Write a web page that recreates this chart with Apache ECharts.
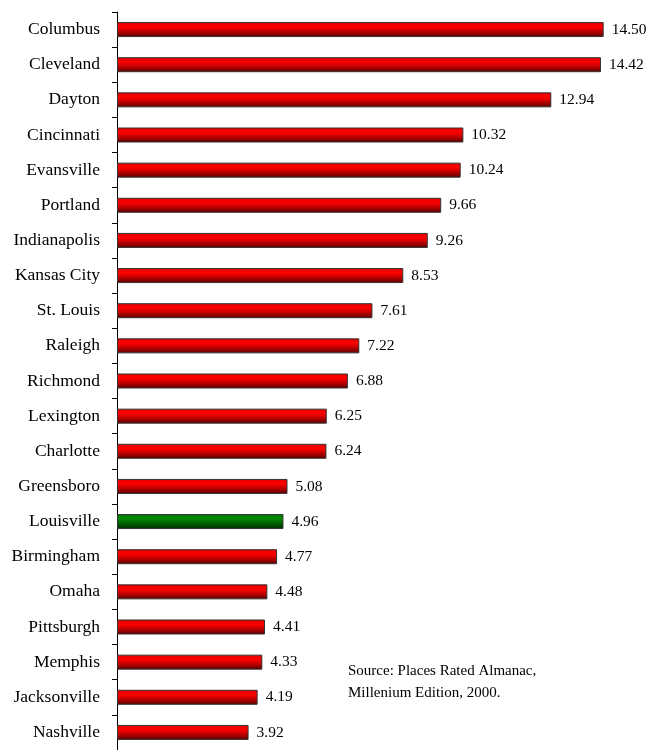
<!DOCTYPE html>
<html>
<head>
<meta charset="utf-8">
<script src="https://cdn.jsdelivr.net/npm/echarts@6/dist/echarts.min.js"></script>
<style>html,body{margin:0;padding:0;background:#fff}#c{width:661px;height:750px}</style>
</head>
<body>
<div id="c"></div>
<script>
const cities = ["Columbus","Cleveland","Dayton","Cincinnati","Evansville","Portland","Indianapolis","Kansas City","St. Louis","Raleigh","Richmond","Lexington","Charlotte","Greensboro","Louisville","Birmingham","Omaha","Pittsburgh","Memphis","Jacksonville","Nashville"];
const values = [14.50,14.42,12.94,10.32,10.24,9.66,9.26,8.53,7.61,7.22,6.88,6.25,6.24,5.08,4.96,4.77,4.48,4.41,4.33,4.19,3.92];
const highlight = "Louisville";
const sourceLines = ["Source: Places Rated Almanac,", "Millenium Edition, 2000."];

const redGrad = new echarts.graphic.LinearGradient(0,0,0,1,[
  {offset:0,color:'#e00000'},{offset:0.3,color:'#ff0000'},{offset:0.55,color:'#d00000'},{offset:1,color:'#5a0000'}]);
const greenGrad = new echarts.graphic.LinearGradient(0,0,0,1,[
  {offset:0,color:'#007a00'},{offset:0.3,color:'#008a00'},{offset:0.55,color:'#006a00'},{offset:1,color:'#002a00'}]);

const chart = echarts.init(document.getElementById('c'), null, {renderer:'canvas'});
chart.setOption({
  animation:false,
  backgroundColor:'#fff',
  grid:{left:117, top:12, width:537, height:739, containLabel:false},
  xAxis:{type:'value', min:0, max:16, show:false},
  yAxis:{type:'category', inverse:true, data:cities,
    axisLine:{show:true, lineStyle:{color:'#000', width:1}},
    axisTick:{show:true, inside:false, length:5, lineStyle:{color:'#000'}},
    axisLabel:{color:'#000', fontFamily:'Liberation Serif', fontSize:17.5, margin:17}
  },
  series:[{
    type:'bar', barWidth:15,
    data: values.map((v,i)=>({value:v, itemStyle:{color: cities[i]===highlight?greenGrad:redGrad}})),
    itemStyle:{borderColor:'#333', borderWidth:1},
    label:{show:true, position:'right', distance:8, color:'#000', fontFamily:'Liberation Serif', fontSize:15.5,
      formatter:p=>p.value.toFixed(2)}
  }],
  graphic:[{type:'text', left:348, top:660, style:{text:sourceLines.join('\n'), font:'15px "Liberation Serif"', fill:'#000', lineHeight:22}}]
});
</script>
</body>
</html>
